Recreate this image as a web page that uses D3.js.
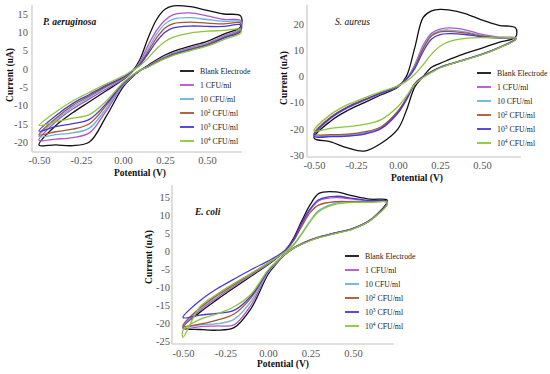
<!DOCTYPE html>
<html><head><meta charset="utf-8">
<script src="https://cdn.jsdelivr.net/npm/d3@7"></script>
<style>body{margin:0;background:#fff}svg{display:block}</style></head>
<body>
<svg id="c" width="550" height="374"></svg>
<script>
// ---------- DATA ----------
const potentials = [-0.5,-0.4,-0.3,-0.2,-0.1,0,0.05,0.1,0.15,0.2,0.25,0.3,0.4,0.5,0.6,0.7];
const seriesLabels = ["Blank Electrode","1 CFU/ml","10 CFU/ml","10|2 CFU/ml","10|3 CFU/ml","10|4 CFU/ml"];
const xTicks = [-0.5,-0.25,0,0.25,0.5];
const yTicksAeruginosa = [-20,-15,-10,-5,0,5,10,15];
const yTicksAureus = [-30,-20,-10,0,10,20];
const yTicksColi = [-25,-20,-15,-10,-5,0,5,10,15];

// forward (anodic) scan, current (uA) at each potential
const aeruginosaForward = [
 [-20.8,-15.5,-12,-9,-6,-3,-1,2.5,8.5,13.5,16.3,17.2,17,16,15,14.5],
 [-19.5,-14.5,-11,-8.2,-5.5,-2.8,-1,1.8,6.5,10.5,13.3,14.8,15.3,14.5,13.5,13.2],
 [-18.5,-14,-10.5,-7.8,-5,-2.6,-0.9,1.5,5.5,9.5,12.3,13.6,14,13.5,13,12.8],
 [-18,-13.5,-10,-7.4,-4.8,-2.5,-0.8,1.3,4.8,8.5,11.2,12.4,12.8,12.5,12.3,12.5],
 [-17,-12.8,-9.5,-7,-4.5,-2.3,-0.7,1.1,4.2,7.5,10,11.2,11.7,11.6,11.6,12],
 [-15.5,-11.8,-8.8,-6.4,-4.1,-2,-0.6,0.8,3,5.5,7.5,8.7,9.8,10.3,10.5,10.8]
];
// reverse (cathodic) scan, current (uA) at each potential
const aeruginosaReverse = [
 [-20.8,-20.8,-21,-20,-13,-5,-2.5,-0.5,1,2.5,3.8,4.8,6.2,7.5,9.5,11.5],
 [-19.5,-19.2,-18.8,-17.5,-11.5,-4.5,-2.3,-0.5,0.8,2.2,3.3,4.3,5.8,7,9,11],
 [-18.5,-18,-17.5,-16.2,-10.8,-4.3,-2.2,-0.5,0.7,2,3.2,4.2,5.6,6.8,8.8,10.8],
 [-18,-17.2,-16.5,-15,-10,-4.1,-2.1,-0.5,0.6,1.9,3,4,5.4,6.6,8.6,10.5],
 [-17,-15.8,-15,-13.8,-9.5,-4,-2,-0.4,0.6,1.8,2.9,3.9,5.2,6.4,8.4,10.2],
 [-15.5,-14.5,-13.5,-12.5,-8.8,-3.8,-1.9,-0.4,0.5,1.7,2.8,3.7,5,6.2,8,9.8]
];
const aureusForward = [
 [-23.5,-17,-13,-10,-7,-4,0,11,22.5,25,25.6,25.4,24,21.5,19.5,18.5],
 [-22.5,-16,-12,-9.2,-6.5,-3.8,-1,4.5,12,16.5,18,18.5,17.8,16,15,14.8],
 [-22.5,-15.7,-11.8,-9,-6.3,-3.7,-1,4,11.3,16,17.4,17.7,17,15.6,14.8,14.6],
 [-22,-15.5,-11.6,-8.8,-6.2,-3.6,-1,3.6,10.6,15.5,17,17.2,16.6,15.4,14.7,14.5],
 [-22.8,-15.8,-11.8,-9,-6.3,-3.7,-1.2,3,9.5,14.3,15.9,16.3,16,15.1,14.6,14.6],
 [-20.8,-14.5,-10.8,-8.2,-5.8,-3.6,-1.8,0.8,4.5,8.5,11.5,13.2,14.5,14.8,14.7,14.6]
];
const aureusReverse = [
 [-23.5,-25,-27.3,-28.5,-25.5,-20,-13,-4,0,3.5,5,6.3,8.8,10.8,13,15],
 [-22.5,-22.8,-22.6,-22,-20,-14,-9,-3,0,1.8,3.5,4.6,6.5,8.5,11,14.3],
 [-22.5,-22.5,-22.3,-21.6,-19.6,-13.6,-8.7,-2.8,0,1.8,3.5,4.6,6.5,8.5,11,14.2],
 [-22,-22.2,-22,-21.2,-19.2,-13.2,-8.4,-2.7,0,1.8,3.4,4.5,6.4,8.4,10.9,14.1],
 [-22.8,-23,-22.8,-22,-19.8,-13.8,-8.8,-2.9,-0.1,1.7,3.4,4.5,6.4,8.4,10.9,14],
 [-20.8,-19.8,-19.2,-18.3,-16.5,-11.5,-7.5,-3,-0.4,1.5,3.2,4.4,6.3,8.3,10.8,14]
];
const coliForward = [
 [-21.3,-17,-13.5,-10.2,-7,-3.8,-2,0,3.5,8.5,13,16,16.4,15.3,14.4,14.2],
 [-21.5,-16.5,-13,-9.8,-6.7,-3.6,-1.9,0,3,7.5,11.5,14,14.8,14.4,13.9,13.8],
 [-21,-16,-12.5,-9.5,-6.5,-3.5,-1.8,-0.3,1.8,5,8.5,11.3,13.3,13.8,13.8,13.7],
 [-20.8,-15.8,-12.3,-9.3,-6.4,-3.4,-1.8,0,2.8,7,10.8,12.8,13.7,13.7,13.6,13.6],
 [-18.5,-13.8,-10.5,-7.8,-5.2,-2.8,-1.5,0.2,3.2,8,11.8,14.3,15.2,14.6,14,13.8],
 [-24,-15.5,-12,-9,-6.2,-3.3,-1.8,-0.3,1.6,4.8,8.3,11,13,13.5,13.5,13.6]
];
const coliReverse = [
 [-21.3,-21.8,-22,-21.3,-16,-6.5,-3.5,-1,0.8,2,3,3.8,5,6.2,8.5,13.5],
 [-21.5,-21,-20.8,-20.5,-15,-6,-3.3,-0.9,0.8,2.1,3.1,3.9,5.1,6.3,8.6,13],
 [-21,-20.5,-20.2,-19,-14,-5.8,-3.2,-0.9,0.8,2,3,3.8,5,6.2,8.5,13],
 [-20.8,-20.3,-19.2,-17.5,-13,-5.5,-3,-0.9,0.8,2,3,3.8,5,6.2,8.5,13],
 [-18.5,-17.8,-17.3,-16.5,-12.5,-5.5,-3,-0.9,0.8,2,3,3.8,5,6.2,8.5,13],
 [-22,-19,-17.5,-15.5,-12,-5.3,-3,-0.9,0.8,1.9,2.9,3.7,4.9,6.1,8.4,12.8]
];

// ---------- STYLE / LAYOUT ----------
const colors = ["#111111","#b055c8","#6ab0dc","#a8542e","#4a36d6","#8cc43c"];
const FONT = "'Liberation Serif','Times New Roman',serif";

const panels = [
 {title:"P. aeruginosa", titleBold:true, fwd:aeruginosaForward, rev:aeruginosaReverse, yTicks:yTicksAeruginosa,
  xr:[39,207], yd:[15,-20], yr:[14,142], box:{l:32,r:242,t:5,b:152},
  yLabX:28, xLabY:164, xTitle:[140,176], yTitle:[10,75], titlePos:[43,25], legend:[180,71]},
 {title:"S. aureus", titleBold:false, fwd:aureusForward, rev:aureusReverse, yTicks:yTicksAureus,
  xr:[314,482], yd:[20,-30], yr:[24,155], box:{l:307,r:521,t:5,b:157},
  yLabX:304, xLabY:169, xTitle:[417,181], yTitle:[284,78], titlePos:[335,25], legend:[477,73]},
 {title:"E. coli", titleBold:true, fwd:coliForward, rev:coliReverse, yTicks:yTicksColi,
  xr:[183,353], yd:[15,-25], yr:[197,341], box:{l:172,r:394,t:185,b:344},
  yLabX:170, xLabY:357, xTitle:[283,367], yTitle:[149,257], titlePos:[195,215], legend:[345,256]}
];

const svg = d3.select("#c");
svg.append("rect").attr("width",550).attr("height",374).attr("fill","#fff");

function labelText(sel, label){
  const parts = label.split("|");
  if(parts.length===1){ sel.text(label); return; }
  sel.append("tspan").text(parts[0].replace(/\s*$/,""));
  const rest = parts[1];
  sel.append("tspan").attr("dy",-3).attr("font-size","5.5px").text(rest[0]);
  sel.append("tspan").attr("dy",3).text(rest.slice(1));
}

panels.forEach(p=>{
  const g = svg.append("g");
  const x = d3.scaleLinear().domain([-0.5,0.5]).range(p.xr);
  const y = d3.scaleLinear().domain(p.yd).range(p.yr);

  // axis lines
  g.append("line").attr("x1",p.box.l).attr("x2",p.box.l).attr("y1",p.box.t).attr("y2",p.box.b)
    .attr("stroke","#d6d6d6").attr("stroke-width",1.6);
  g.append("line").attr("x1",p.box.l).attr("x2",p.box.r).attr("y1",p.box.b).attr("y2",p.box.b)
    .attr("stroke","#d6d6d6").attr("stroke-width",1.6);

  // x axis tick labels
  const xa = d3.axisBottom(x).tickValues(xTicks).tickSize(0).tickPadding(0)
     .tickFormat(d=>d3.format(".2f")(d).replace("−","-"));
  const gx = g.append("g").attr("transform",`translate(0,${p.xLabY})`).call(xa);
  gx.select(".domain").remove();
  gx.selectAll("text").attr("dy",0).attr("y",0).attr("font-family",FONT).attr("font-size","10.5px").attr("fill","#555");

  const ya = d3.axisLeft(y).tickValues(p.yTicks).tickSize(0).tickPadding(0)
     .tickFormat(d=>String(d));
  const gy = g.append("g").attr("transform",`translate(${p.yLabX},0)`).call(ya);
  gy.select(".domain").remove();
  gy.selectAll("text").attr("x",0).attr("font-family",FONT).attr("font-size","10.5px").attr("fill","#555");

  // titles
  g.append("text").attr("x",p.xTitle[0]).attr("y",p.xTitle[1]).attr("text-anchor","middle")
    .attr("font-family",FONT).attr("font-weight","bold").attr("font-size","9.5px").attr("fill","#111")
    .text("Potential (V)");
  g.append("text").attr("transform",`translate(${p.yTitle[0]},${p.yTitle[1]}) rotate(-90)`)
    .attr("text-anchor","middle").attr("dy","0.35em")
    .attr("font-family",FONT).attr("font-weight","bold").attr("font-size","9.5px").attr("fill","#111")
    .text("Current (uA)");
  g.append("text").attr("x",p.titlePos[0]).attr("y",p.titlePos[1])
    .attr("font-family",FONT).attr("font-style","italic").attr("font-weight",p.titleBold?"bold":"normal")
    .attr("font-size","9.5px").attr("fill","#111").text(p.title);

  // curves
  const line = d3.line().x(d=>x(d[0])).y(d=>y(d[1])).curve(d3.curveCatmullRomClosed.alpha(0.5));
  p.fwd.forEach((f,i)=>{
    const r = p.rev[i];
    const pts = f.map((v,k)=>[potentials[k],v]);
    const back = r.map((v,k)=>[potentials[k],v]).reverse();
    if(back[back.length-1][1]===pts[0][1]) back.pop();
    g.append("path").attr("d",line(pts.concat(back))).attr("fill","none")
      .attr("stroke",colors[i]).attr("stroke-width",1.3).attr("stroke-linejoin","round");
  });

  // legend
  seriesLabels.forEach((lab,i)=>{
    const ly = p.legend[1] + i*14;
    g.append("line").attr("x1",p.legend[0]).attr("x2",p.legend[0]+14).attr("y1",ly).attr("y2",ly)
      .attr("stroke",colors[i]).attr("stroke-width",1.8);
    const t = g.append("text").attr("x",p.legend[0]+20).attr("y",ly+2.8)
      .attr("font-family",FONT).attr("font-size","7.8px").attr("fill","#222");
    labelText(t, lab);
  });
});
</script>
</body></html>
